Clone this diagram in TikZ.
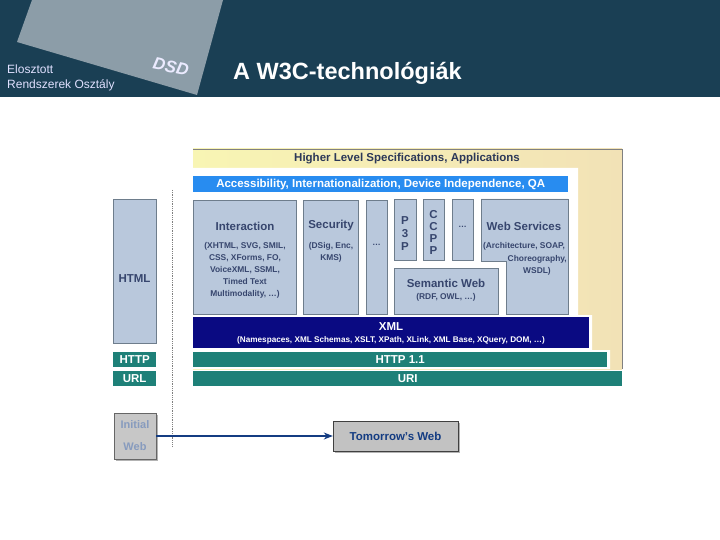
\documentclass[tikz,border=0pt]{standalone}
\usepackage{fontspec}
\setmainfont{Liberation Sans}
\usepackage{tikz}
\usetikzlibrary{positioning, arrows, arrows.meta, shadows}

\definecolor{hdrbg}{RGB}{26,63,84}
\definecolor{logogray}{RGB}{140,157,168}
\definecolor{hlyellow}{RGB}{248,245,180}
\definecolor{hlbeige}{RGB}{242,226,182}
\definecolor{accblue}{RGB}{40,140,240}
\definecolor{boxfill}{RGB}{185,200,220}
\definecolor{boxline}{RGB}{110,125,140}
\definecolor{boxtxt}{RGB}{55,70,110}
\definecolor{xmlnavy}{RGB}{10,10,130}
\definecolor{teal}{RGB}{30,128,120}
\definecolor{arrowblue}{RGB}{20,60,130}
\definecolor{initxt}{RGB}{135,155,190}

\tikzset{
  layer/.style={draw=boxline, fill=boxfill, inner sep=0pt, anchor=north west},
  band/.style={inner sep=0pt, anchor=north west, text=white, font=\fontsize{11.5}{12}\selectfont\bfseries},
  boxtitle/.style={text=boxtxt, inner sep=1pt, font=\fontsize{11.5}{12}\selectfont\bfseries},
  boxtext/.style={text=boxtxt, inner sep=1pt, align=center, font=\fontsize{8.4}{12}\selectfont\bfseries},
  web/.style={draw=gray!80!black, inner sep=0pt, drop shadow={opacity=0.6, shadow xshift=2pt, shadow yshift=-2pt}}
}

\begin{document}
\begin{tikzpicture}[x=1pt,y=-1pt]
\useasboundingbox (0,0) rectangle (720,540);
\fill[hdrbg] (0,0) rectangle (720,97);
\fill[logogray] (32,0) -- (223,0) -- (197,95) -- (17,42) -- cycle;
\node[rotate=-12, inner sep=0pt, text=white!92!blue, font=\fontsize{17}{17}\selectfont\bfseries\itshape] (dsd) at (171,67) {DSD};
\node[anchor=west, align=left, inner sep=0pt, text=white!88!blue, font=\fontsize{12}{15}\selectfont] (dept) at (7,78) {Elosztott\\Rendszerek Osztály};
\node[anchor=west, inner sep=0pt, text=white, font=\fontsize{23.5}{24}\selectfont\bfseries] (title) at (233,73) {A W3C-technológiák};

\shade[left color=hlyellow, right color=hlbeige] (193,149) rectangle (622,369);
\draw[gray] (193,149) -- (622,149) -- (622,369);
\fill[white] (193,168) -- (578,168) -- (578,315) -- (592,315) -- (592,350) -- (610,350) -- (610,369) -- (193,369) -- cycle;
\node[text=boxtxt!80!black, inner sep=1pt, font=\fontsize{11.5}{12}\selectfont\bfseries] (hl) at (407,159) {Higher Level Specifications, Applications};

\node[band, fill=accblue, minimum width=375pt, minimum height=16pt] (acc) at (193,176) {Accessibility, Internationalization, Device Independence, QA};

\node[layer, minimum width=103pt, minimum height=114pt] (inter) at (193,200) {};
\node[boxtitle] (interT) at (245,226) {Interaction};
\node[boxtext] (interD) at (245,270) {(XHTML, SVG, SMIL,\\CSS, XForms, FO,\\VoiceXML, SSML,\\Timed Text\\Multimodality, \dots)};
\node[layer, minimum width=55pt, minimum height=114pt] (sec) at (303,200) {};
\node[boxtitle] (secT) at (331,226) {Security};
\node[boxtext] (secD) at (331,252.5) {(DSig, Enc,\\KMS)};
\node[layer, minimum width=21pt, minimum height=114pt] (dotsA) at (366,200) {};
\node[boxtext] (dotsAT) at (376.5,245) {\dots};
\node[layer, minimum width=22pt, minimum height=61pt] (ppp) at (394,199) {};
\node[boxtitle, align=center, font=\fontsize{11.5}{13}\selectfont\bfseries] (pppT) at (405,234) {P\\3\\P};
\node[layer, minimum width=21pt, minimum height=61pt] (ccpp) at (423,199) {};
\node[boxtitle, align=center, font=\fontsize{11.5}{12}\selectfont\bfseries] (ccppT) at (433.5,232) {C\\C\\P\\P};
\node[layer, minimum width=21pt, minimum height=61pt] (dotsB) at (452,199) {};
\node[boxtext] (dotsBT) at (462.5,227) {\dots};
\draw[draw=boxline, fill=boxfill] (481,199) -- (568,199) -- (568,314) -- (506,314) -- (506,261) -- (481,261) -- cycle;
\node[boxtitle] (wsT) at (524,226) {Web Services};
\node[boxtext] (wsA) at (524,246) {(Architecture, SOAP,};
\node[boxtext, anchor=east] (wsB) at (568,259) {Choreography,};
\node[boxtext] (wsC) at (537,271) {WSDL)};
\node[layer, minimum width=104pt, minimum height=46pt] (sem) at (394,268) {};
\node[boxtitle] (semT) at (446,283) {Semantic Web};
\node[boxtext] (semD) at (446,297) {(RDF, OWL, \dots)};

\node[band, fill=xmlnavy, minimum width=396pt, minimum height=31pt] (xml) at (193,317) {};
\node[text=white, inner sep=1pt, font=\fontsize{11.5}{12}\selectfont\bfseries] (xmlT) at (391,327) {XML};
\node[text=white, inner sep=1pt, font=\fontsize{8.2}{9}\selectfont\bfseries] (xmlD) at (391,340) {(Namespaces, XML Schemas, XSLT, XPath, XLink, XML Base, XQuery, DOM, \dots)};
\node[band, fill=teal, minimum width=414pt, minimum height=15pt] (http) at (193,352) {HTTP 1.1};
\node[band, fill=teal, minimum width=429pt, minimum height=15pt] (uri) at (193,371) {URI};

\node[layer, minimum width=43pt, minimum height=144pt] (html) at (113,199) {};
\node[boxtitle] (htmlT) at (134.5,279) {HTML};
\node[band, fill=teal, minimum width=43pt, minimum height=15pt] (httpL) at (113,352) {HTTP};
\node[band, fill=teal, minimum width=43pt, minimum height=15pt] (url) at (113,371) {URL};

\coordinate (dtop) at (172,190);
\coordinate (dbot) at (172,447);
\draw[gray, densely dotted, line width=0.8pt] (dtop) -- (dbot);

\node[web, fill=black!22, minimum width=42pt, minimum height=46pt, align=center, text=initxt, font=\fontsize{11}{22}\selectfont\bfseries] (ini) at (135,436) {Initial\\Web};
\node[web, fill=black!24, draw=black!75, minimum width=125pt, minimum height=30pt, text=arrowblue, font=\fontsize{11.5}{12}\selectfont\bfseries] (tom) at (395.5,436) {Tomorrow's Web};
\draw[-{Stealth[length=9pt,width=7pt]}, arrowblue, line width=1.3pt] (ini) -- (tom);
\end{tikzpicture}
\end{document}
